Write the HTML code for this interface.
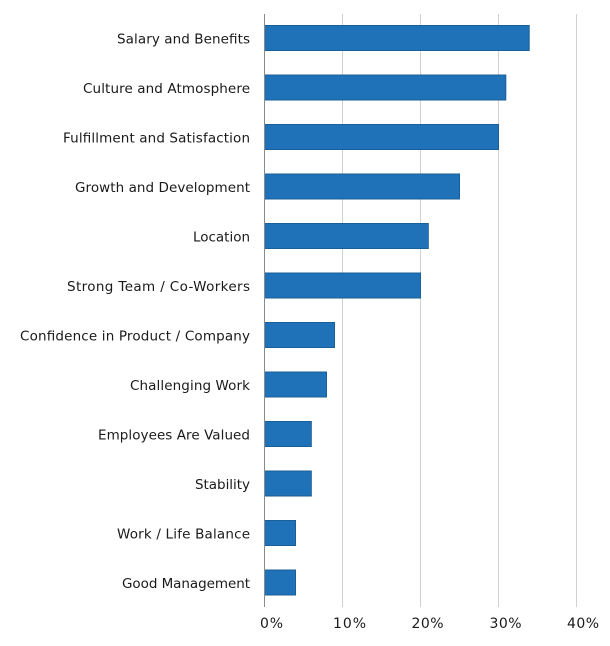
<!DOCTYPE html>
<html>
<head>
<meta charset="utf-8">
<style>
  html,body{margin:0;padding:0;background:#fff;}
  svg{display:block;}
  text{font-family:"DejaVu Sans","Liberation Sans",sans-serif;fill:#1a1a1a;}
</style>
</head>
<body>
<svg width="610" height="646" viewBox="0 0 610 646" xmlns="http://www.w3.org/2000/svg">
  <!-- gridlines -->
  <g stroke="#d0d0d0" stroke-width="1">
    <line x1="342.5" y1="14" x2="342.5" y2="607"/>
    <line x1="420.5" y1="14" x2="420.5" y2="607"/>
    <line x1="498.5" y1="14" x2="498.5" y2="607"/>
    <line x1="576.5" y1="14" x2="576.5" y2="607"/>
  </g>
  <!-- bars -->
  <g fill="#1f72b7" stroke="#1b5f98" stroke-width="1">
    <rect x="264.5" y="25.5" width="264.7" height="25"/>
    <rect x="264.5" y="75" width="241.3" height="25"/>
    <rect x="264.5" y="124.5" width="234" height="25"/>
    <rect x="264.5" y="174" width="195" height="25"/>
    <rect x="264.5" y="223.5" width="163.8" height="25"/>
    <rect x="264.5" y="273" width="156" height="25"/>
    <rect x="264.5" y="322.5" width="70" height="25"/>
    <rect x="264.5" y="372" width="62" height="25"/>
    <rect x="264.5" y="421.5" width="46.8" height="25"/>
    <rect x="264.5" y="471" width="46.8" height="25"/>
    <rect x="264.5" y="520.5" width="31" height="25"/>
    <rect x="264.5" y="570" width="31" height="25"/>
  </g>
  <!-- axis line -->
  <line x1="264.5" y1="14" x2="264.5" y2="607" stroke="#8a8a8a" stroke-width="1"/>
  <!-- category labels -->
  <g font-size="13.5" text-anchor="end">
    <text x="250" y="43.5" textLength="133">Salary and Benefits</text>
    <text x="250" y="93" textLength="167">Culture and Atmosphere</text>
    <text x="250" y="142.5" textLength="187">Fulfillment and Satisfaction</text>
    <text x="250" y="192" textLength="175">Growth and Development</text>
    <text x="250" y="241.5" textLength="57">Location</text>
    <text x="250" y="291" textLength="183">Strong Team / Co-Workers</text>
    <text x="250" y="340.5" textLength="230">Confidence in Product / Company</text>
    <text x="250" y="390" textLength="120">Challenging Work</text>
    <text x="250" y="439.5" textLength="152">Employees Are Valued</text>
    <text x="250" y="489" textLength="55">Stability</text>
    <text x="250" y="538.5" textLength="133">Work / Life Balance</text>
    <text x="250" y="588" textLength="128">Good Management</text>
  </g>
  <!-- tick labels -->
  <g font-size="14">
    <text x="260" y="628" textLength="23">0%</text>
    <text x="333" y="628" textLength="33">10%</text>
    <text x="411.5" y="628" textLength="32">20%</text>
    <text x="489.5" y="628" textLength="32">30%</text>
    <text x="567" y="628" textLength="32">40%</text>
  </g>
</svg>
</body>
</html>
